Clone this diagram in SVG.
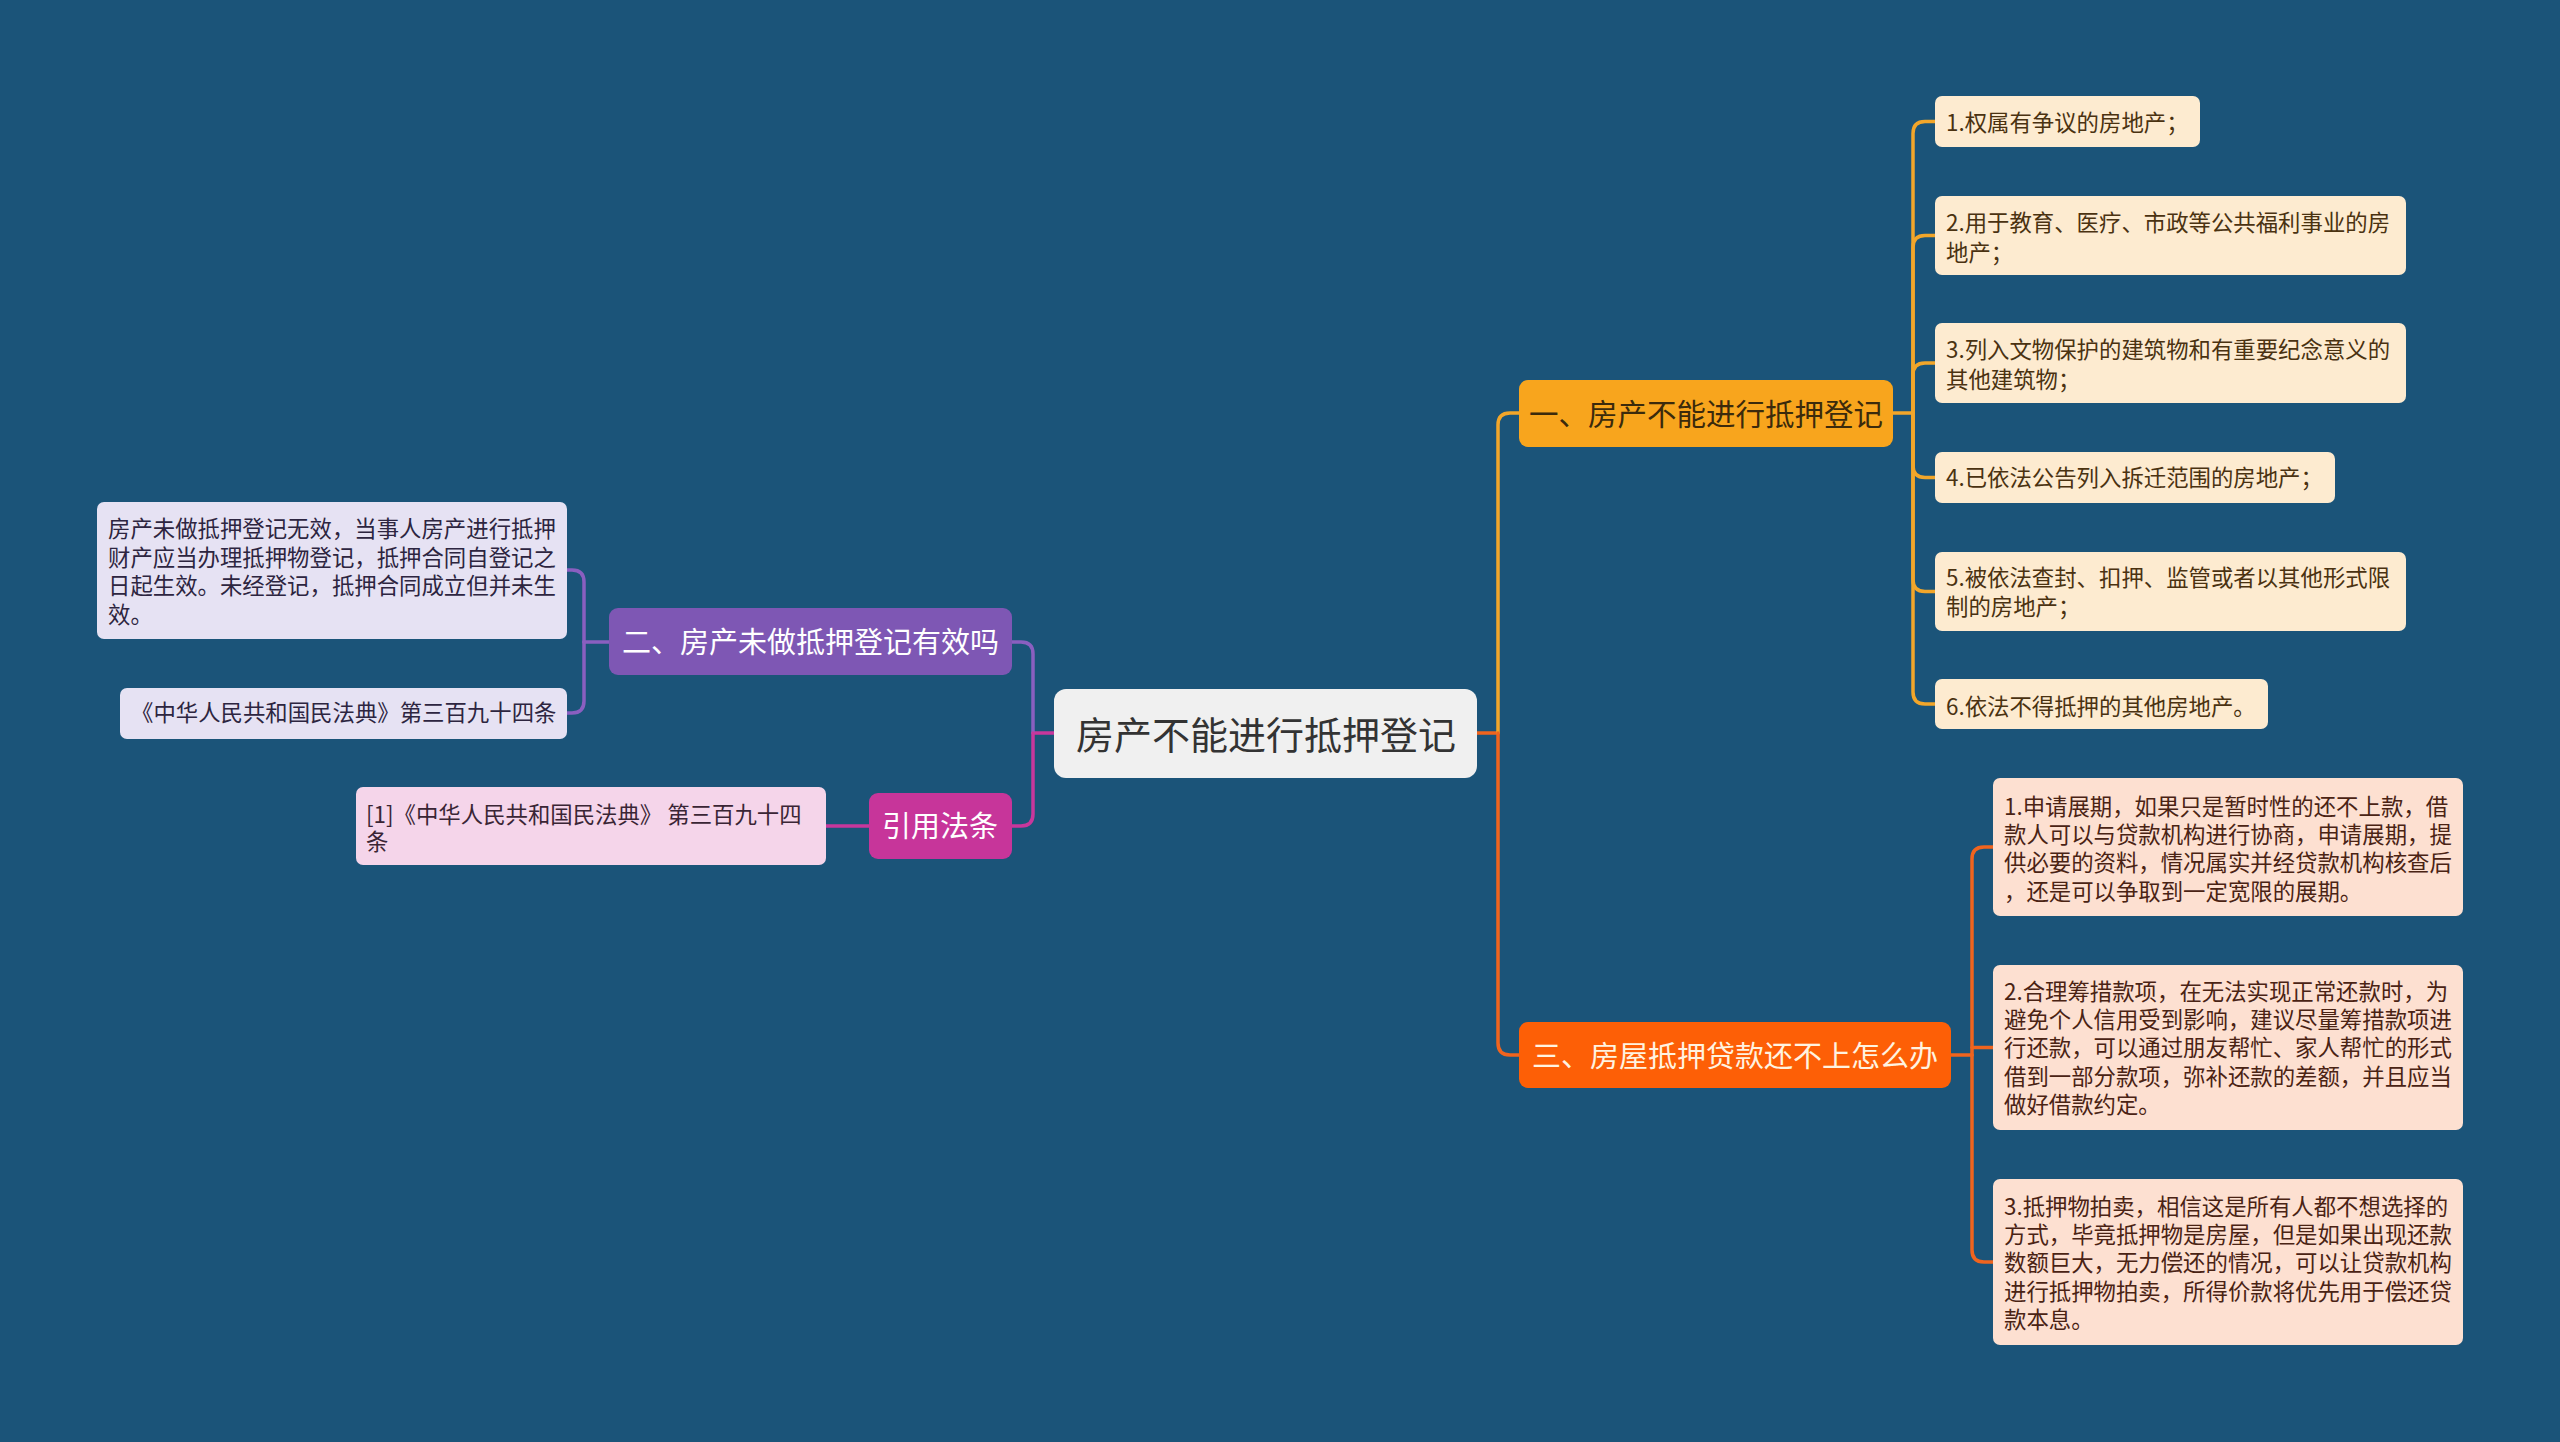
<svg xmlns="http://www.w3.org/2000/svg" width="2560" height="1442" viewBox="0 0 2560 1442">
<style>
text{font-family:"Noto Sans CJK SC","Noto Sans",sans-serif}
.root{font-size:38px;fill:#333333;text-anchor:middle}
.br{font-size:30px;text-anchor:middle}
.lf{font-size:22.4px}
.c{fill:none;stroke-width:3.5;stroke-linecap:round}
.cy{stroke:#f2a62a}.co{stroke:#f0641e}.cp{stroke:#8a5fc0}.cm{stroke:#c8379c}
.y1{fill:#fdebd0}.ty{fill:#4a3211}
.o1{fill:#fde0d1}.to{fill:#4a2314}
.p1{fill:#e6e2f3}.tp{fill:#2d2540}
.m1{fill:#f5d5ea}.tm{fill:#3a2535}
</style>
<rect width="2560" height="1442" fill="#1b5479"/>
<g id="connectors">
<path class="c co" d="M1477,733 H1498"/>
<path class="c cy" d="M1498,733 V425 Q1498,413 1510,413 H1519"/>
<path class="c co" d="M1498,733 V1043 Q1498,1055 1510,1055 H1519"/>
<path class="c cm" d="M1054,733 H1033"/>
<path class="c cp" d="M1033,733 V654 Q1033,642 1021,642 H1012"/>
<path class="c cm" d="M1033,733 V814 Q1033,826 1021,826 H1012"/>
<path class="c cy" d="M1893,413 H1913"/>
<path class="c cy" d="M1913,413 V133.5 Q1913,121.5 1925,121.5 H1935"/>
<path class="c cy" d="M1913,413 V247.5 Q1913,235.5 1925,235.5 H1935"/>
<path class="c cy" d="M1913,413 V375 Q1913,363 1925,363 H1935"/>
<path class="c cy" d="M1913,413 V465.5 Q1913,477.5 1925,477.5 H1935"/>
<path class="c cy" d="M1913,413 V579.5 Q1913,591.5 1925,591.5 H1935"/>
<path class="c cy" d="M1913,413 V692 Q1913,704 1925,704 H1935"/>
<path class="c co" d="M1951,1055 H1972"/>
<path class="c co" d="M1972,1055 V859 Q1972,847 1984,847 H1993"/>
<path class="c co" d="M1972,1047.5 H1993"/>
<path class="c co" d="M1972,1055 V1250 Q1972,1262 1984,1262 H1993"/>
<path class="c cp" d="M609,642 H584"/>
<path class="c cp" d="M584,642 V582 Q584,570 572,570 H567"/>
<path class="c cp" d="M584,642 V701 Q584,713 572,713 H567"/>
<path class="c cm" d="M869,826 H826"/>
</g>
<g id="root">
<rect x="1054" y="689" width="423" height="89" rx="12" fill="#f0f0f0"/>
<text class="root" x="1266" y="749">房产不能进行抵押登记</text>
</g>
<g id="branch1">
<rect x="1519" y="380" width="374" height="67" rx="9" fill="#f8a51d"/>
<text class="br" x="1706" y="425" style="font-size:29.5px" fill="#3b2a0c">一、房产不能进行抵押登记</text>
</g>
<g id="branch2">
<rect x="609" y="608" width="403" height="67" rx="9" fill="#7e57b4"/>
<text class="br" x="810.5" y="652.5" style="font-size:29px" fill="#ffffff">二、房产未做抵押登记有效吗</text>
</g>
<g id="branch3">
<rect x="1519" y="1022" width="432" height="66" rx="9" fill="#fd5f06"/>
<text class="br" x="1735" y="1067" style="font-size:29px" fill="#fff3e0">三、房屋抵押贷款还不上怎么办</text>
</g>
<g id="citation">
<rect x="869" y="793" width="143" height="66" rx="9" fill="#c7359a"/>
<text class="br" x="940" y="837" style="font-size:29px" fill="#ffffff">引用法条</text>
</g>
<g id="b1-leaf1">
<rect class="y1" x="1935" y="96" width="265" height="51" rx="7"/>
<text class="lf ty" x="1946" y="131">1.权属有争议的房地产；</text>
</g>
<g id="b1-leaf2">
<rect class="y1" x="1935" y="196" width="471" height="79" rx="7"/>
<text class="lf ty" x="1946" y="231">2.用于教育、医疗、市政等公共福利事业的房</text>
<text class="lf ty" x="1946" y="261">地产；</text>
</g>
<g id="b1-leaf3">
<rect class="y1" x="1935" y="323" width="471" height="80" rx="7"/>
<text class="lf ty" x="1946" y="358">3.列入文物保护的建筑物和有重要纪念意义的</text>
<text class="lf ty" x="1946" y="388">其他建筑物；</text>
</g>
<g id="b1-leaf4">
<rect class="y1" x="1935" y="452" width="400" height="51" rx="7"/>
<text class="lf ty" x="1946" y="486">4.已依法公告列入拆迁范围的房地产；</text>
</g>
<g id="b1-leaf5">
<rect class="y1" x="1935" y="552" width="471" height="79" rx="7"/>
<text class="lf ty" x="1946" y="586">5.被依法查封、扣押、监管或者以其他形式限</text>
<text class="lf ty" x="1946" y="615">制的房地产；</text>
</g>
<g id="b1-leaf6">
<rect class="y1" x="1935" y="679" width="333" height="50" rx="7"/>
<text class="lf ty" x="1946" y="715">6.依法不得抵押的其他房地产。</text>
</g>
<g id="b3-leaf1">
<rect class="o1" x="1993" y="778" width="470" height="138" rx="7"/>
<text class="lf to" x="2004" y="814.5">1.申请展期，如果只是暂时性的还不上款，借</text>
<text class="lf to" x="2004" y="843">款人可以与贷款机构进行协商，申请展期，提</text>
<text class="lf to" x="2004" y="871.3">供必要的资料，情况属实并经贷款机构核查后</text>
<text class="lf to" x="2004" y="899.7">，还是可以争取到一定宽限的展期。</text>
</g>
<g id="b3-leaf2">
<rect class="o1" x="1993" y="965" width="470" height="165" rx="7"/>
<text class="lf to" x="2004" y="999.5">2.合理筹措款项，在无法实现正常还款时，为</text>
<text class="lf to" x="2004" y="1028">避免个人信用受到影响，建议尽量筹措款项进</text>
<text class="lf to" x="2004" y="1056">行还款，可以通过朋友帮忙、家人帮忙的形式</text>
<text class="lf to" x="2004" y="1084.5">借到一部分款项，弥补还款的差额，并且应当</text>
<text class="lf to" x="2004" y="1113">做好借款约定。</text>
</g>
<g id="b3-leaf3">
<rect class="o1" x="1993" y="1179" width="470" height="166" rx="7"/>
<text class="lf to" x="2004" y="1214.5">3.抵押物拍卖，相信这是所有人都不想选择的</text>
<text class="lf to" x="2004" y="1243">方式，毕竟抵押物是房屋，但是如果出现还款</text>
<text class="lf to" x="2004" y="1271">数额巨大，无力偿还的情况，可以让贷款机构</text>
<text class="lf to" x="2004" y="1299.5">进行抵押物拍卖，所得价款将优先用于偿还贷</text>
<text class="lf to" x="2004" y="1328">款本息。</text>
</g>
<g id="b2-leaf1">
<rect class="p1" x="97" y="502" width="470" height="137" rx="7"/>
<text class="lf tp" x="108" y="537">房产未做抵押登记无效，当事人房产进行抵押</text>
<text class="lf tp" x="108" y="565.5">财产应当办理抵押物登记，抵押合同自登记之</text>
<text class="lf tp" x="108" y="594">日起生效。未经登记，抵押合同成立但并未生</text>
<text class="lf tp" x="108" y="622.5">效。</text>
</g>
<g id="b2-leaf2">
<rect class="p1" x="120" y="688" width="447" height="51" rx="7"/>
<text class="lf tp" x="131" y="721">《中华人民共和国民法典》第三百九十四条</text>
</g>
<g id="cite-leaf">
<rect class="m1" x="356" y="787" width="470" height="78" rx="7"/>
<text class="lf tm" x="366" y="823">[1]《中华人民共和国民法典》 第三百九十四</text>
<text class="lf tm" x="366" y="850">条</text>
</g>
</svg>
